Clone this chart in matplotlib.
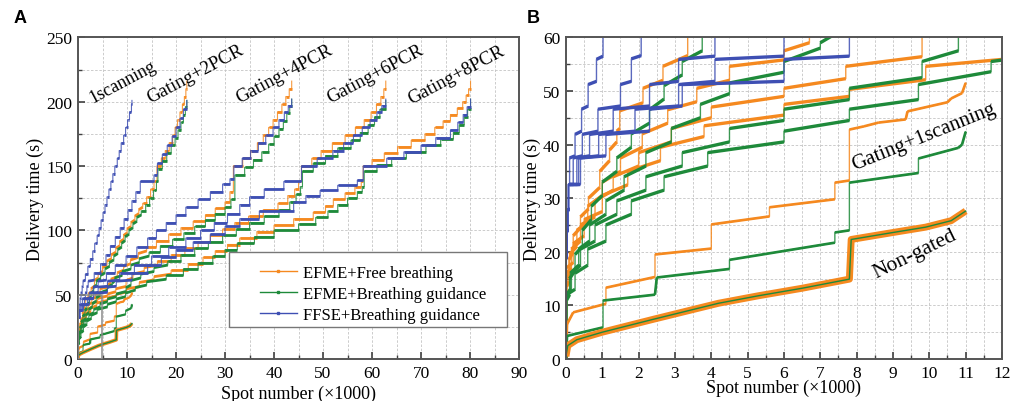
import matplotlib
matplotlib.use('Agg')
import matplotlib.pyplot as plt
from matplotlib.collections import LineCollection
from matplotlib.lines import Line2D
from matplotlib.patches import Rectangle
from matplotlib.ticker import MultipleLocator

plt.rcParams['font.family'] = 'Liberation Serif'

ORANGE = '#F5891F'
GREEN = '#1E8A3A'
BLUE = '#3E4FB3'

# ---- step curves: x = spot number (x1000) where a level starts, y = delivery time (s)
# *_rise = how much the first treads climb before the next jump
# EFME + Free breathing (orange)
o2_x = [0, 0.02, 0.08, 0.2, 0.4, 0.62, 0.93, 1.2, 1.4, 1.48, 2.12, 2.67, 3.35, 4.1, 5.0, 5.9, 6.8, 7.7, 8.5, 9.3, 10.0,
        10.8, 11.6, 12.4, 13.2, 14.0, 14.8, 15.5, 16.1, 17.0, 17.8, 18.6, 19.3, 19.8, 20.3, 20.8, 21.3, 21.7, 22.0, 22.2]
o2_y = [0, 13.5, 18.5, 23, 26.5, 30, 35, 39, 42.5, 46.3, 50.5, 54.6, 61, 66, 71, 76, 81, 86, 91, 96, 101,
        106, 111, 116, 121, 126, 132, 138, 150, 156, 162, 168, 174, 180, 186, 192, 198, 204, 210, 216]
o2_rise = [0, 1, 1.5, 1.5, 1.5, 2, 2, 1.5, 0.5, 1.5, 1.5, 2, 2, 2, 2, 2, 2, 2, 2, 2, 2, 2, 2, 2]
o4_x = [0, 0.02, 0.1, 0.3, 0.6, 1.0, 1.5, 2.1, 2.8, 3.6, 4.5, 6.0, 6.7, 8.0, 9.3, 10.7, 12.3, 14.0, 16.0, 18.5, 21.0,
        23.5, 26.0, 28.0, 30.0, 31.0, 31.7, 33.6, 35.2, 36.6, 37.8, 38.9, 39.8, 40.7, 41.6, 42.4, 43.1, 43.6]
o4_y = [0, 15, 19.5, 24, 28.5, 33, 37.5, 42, 46.5, 50.5, 54.6, 57.5, 62, 67, 72, 77, 82, 87, 92, 97, 102,
        107, 112, 117, 122, 130, 150, 156, 162, 168, 174, 180, 186, 192, 198, 204, 210, 216]
o4_rise = [0, 1, 1.5, 1.5, 2, 2, 2, 2, 1.5, 1.5, 1.2, 1.5, 2, 2, 2, 2, 2]
o6_x = [0, 0.02, 0.15, 0.4, 0.8, 1.3, 2.0, 2.9, 4.0, 6.0, 7.7, 9.8, 11.2, 13.5, 16.2, 19.0, 21.8, 24.5, 27.0, 29.5, 32.0,
        34.8, 37.8, 40.8, 42.8, 44.2, 45.0, 45.6, 47.7, 49.6, 51.9, 54.5, 56.6, 58.4, 59.8, 60.9, 61.8, 62.4, 62.8]
o6_y = [0, 16, 20.5, 25, 29.5, 34, 38.5, 43, 47, 50.5, 54.6, 61, 66, 71, 76, 81, 86, 91, 96, 101, 106,
        111, 116, 121, 127, 132, 138, 150, 156, 162, 168, 174, 180, 186, 192, 198, 204, 210, 216]
o6_rise = [0, 1, 1.5, 1.5, 2, 2, 2, 2, 2, 1.8, 1.8, 2, 2, 2]
o8_x = [0, 0.02, 0.2, 0.5, 1.0, 1.7, 2.6, 3.8, 6.0, 7.8, 9.9, 12.5, 15.5, 19.0, 22.5, 25.5, 28.0, 30.5, 33.0, 36.5, 40.0,
        44.0, 48.0, 50.5, 52.1, 54.5, 56.5, 57.8, 58.2, 60.0, 62.5, 65.2, 68.0, 70.8, 72.8, 74.5, 76.0, 77.4, 78.5,
        79.2, 79.7, 80.1]
o8_y = [0, 17, 21.5, 26, 30.5, 35, 39.5, 43.5, 47.5, 50.3, 54.6, 59.5, 64, 69, 74, 79, 84, 89, 94, 99, 104,
        109, 114, 119, 124, 129, 134, 138, 150, 155, 160, 165, 170, 175, 180, 185, 190, 195, 200,
        205, 210, 216]
o8_rise = [0, 1, 1.5, 1.5, 2, 2, 2, 2, 1.5, 1.8, 1.6, 2, 2]

# EFME + Breathing guidance (green)
g2_x = [0, 0.02, 0.1, 0.25, 0.45, 0.7, 1.0, 1.4, 1.8, 2.3, 2.7, 3.2, 3.75, 4.6, 5.5, 6.4, 7.3, 8.1, 8.9, 9.6, 10.4,
        11.2, 12.0, 12.9, 13.8, 14.6, 15.4, 16.0, 16.3, 17.2, 18.1, 19.0, 19.8, 20.4, 21.0, 21.5, 21.9, 22.2]
g2_y = [0, 11, 15, 19.5, 24, 28.5, 33, 37.5, 42, 46.5, 51, 55.5, 60.5, 65, 70, 75, 80, 85, 90, 95, 100,
        105, 110, 115, 120, 125, 131, 138, 148, 154, 160, 166, 172, 178, 184, 190, 196, 201]
g2_rise = [0, 1, 1.5, 1.5, 2, 2, 2, 2, 2, 2, 2, 2, 2, 2, 2, 2, 2, 2, 2, 2, 2, 2, 2]
g4_x = [0, 0.02, 0.12, 0.35, 0.65, 1.1, 1.6, 2.2, 2.9, 3.7, 4.5, 6.0, 7.0, 7.5, 9.0, 10.8, 12.5, 14.5, 16.8, 19.3, 21.6,
        23.8, 26.0, 28.0, 30.0, 31.2, 32.0, 34.0, 35.8, 37.5, 38.9, 40.0, 41.0, 41.9, 42.6, 43.2, 43.6]
g4_y = [0, 12, 16, 20.5, 25, 29.5, 34, 38.5, 43, 47.5, 51.5, 55.5, 59, 63, 68, 73, 78, 83, 88, 93, 98,
        103, 108, 113, 118, 124, 143, 149, 155, 161, 167, 173, 179, 185, 191, 197, 202]
g4_rise = [0, 1, 1.5, 1.5, 2, 2, 2, 2, 2, 2, 2, 2.5, 2, 2, 2, 2, 2]
g6_x = [0, 0.02, 0.15, 0.4, 0.8, 1.4, 2.2, 3.2, 4.5, 6.0, 7.8, 9.8, 10.8, 12.8, 15.5, 18.3, 21.0, 23.8, 26.6, 29.5, 32.3,
        35.0, 38.0, 41.0, 43.2, 44.5, 45.4, 45.8, 48.0, 50.5, 53.0, 55.7, 57.6, 59.2, 60.5, 61.6, 62.8]
g6_y = [0, 12, 16, 20.5, 25, 29.5, 34, 38.5, 43, 46.6, 50.5, 55.5, 61, 66, 71, 76, 81, 86, 91, 96, 101,
        106, 111, 116, 122, 128, 134, 146, 152, 158, 164, 170, 176, 182, 188, 194, 201]
g6_rise = [0, 1, 1.5, 1.5, 2, 2, 2, 2, 1.5, 1.8, 2, 2, 2, 2, 2]
g8_x = [0, 0.02, 0.25, 0.6, 1.1, 1.8, 2.7, 3.9, 6.0, 7.8, 9.7, 11.7, 14.0, 18.0, 21.5, 24.5, 27.5, 30.0, 32.5, 36.0, 40.0,
        45.0, 48.5, 51.0, 53.0, 55.0, 57.0, 58.0, 58.4, 61.0, 64.0, 67.0, 71.0, 74.0, 76.6, 77.8, 78.8, 79.5, 80.1]
g8_y = [0, 12, 16, 20.5, 25, 29.5, 34, 38.5, 42.5, 46.6, 51.2, 55.5, 60, 65, 70, 75, 80, 85, 90, 95, 100,
        105, 110, 115, 120, 125, 130, 134, 146, 151, 156, 161, 166, 171, 176, 182, 188, 194, 202]
g8_rise = [0, 1, 1.5, 1.5, 2, 2, 2, 2, 2, 1.8, 2.4, 2, 2]

# FFSE + Breathing guidance (blue)
b1_x = [0, 0.01, 0.03, 0.05, 0.07, 0.1, 0.25, 0.43, 0.61, 0.84, 1.02, 1.5, 2.0, 2.5, 3.0, 3.4, 3.9, 4.3, 4.7, 5.1,
        5.5, 5.9, 6.3, 6.7, 7.1, 7.5, 8.0, 8.4, 8.8, 9.3, 9.7, 10.1, 10.5, 10.9, 11.0]
b1_y = [0, 19, 24, 28, 32.6, 37.5, 41.9, 46.6, 51.2, 55.9, 60.5, 66, 72, 78, 84, 90, 96, 102, 108, 114,
        120, 126, 132, 138, 144, 150, 156, 162, 168, 174, 180, 186, 192, 198, 201]
b2_x = [0, 0.01, 0.03, 0.05, 0.07, 0.2, 0.45, 0.88, 1.5, 1.8, 2.07, 3.3, 4.6, 5.7, 6.6, 7.6, 8.6, 9.4, 10.2, 11.0,
        11.8, 12.7, 15.5, 16.2, 17.2, 18.2, 19.2, 20.0, 20.8, 21.5, 22.2]
b2_y = [0, 19, 24, 28, 32.6, 37.5, 41.9, 46.6, 51.2, 56, 60.5, 67, 74, 81, 88, 95, 102, 109, 116, 123,
        130, 138, 143, 152, 159, 166, 173, 180, 187, 194, 201]
b4_x = [0, 0.01, 0.03, 0.05, 0.07, 0.3, 0.65, 1.3, 2.3, 3.1, 4.1, 5.8, 7.6, 9.8, 12.0, 14.2, 16.0, 18.0, 20.0, 22.0,
        24.5, 27.0, 29.5, 31.0, 31.8, 33.5, 35.2, 36.8, 38.3, 39.8, 41.0, 42.1, 42.9, 43.6]
b4_y = [0, 19, 24, 28, 32.6, 37.5, 41.9, 46.6, 51.2, 55.9, 60.5, 67, 73, 80, 87, 94, 100, 106, 112, 118,
        124, 130, 136, 140, 150, 156, 162, 168, 174, 180, 186, 192, 197, 202]
b6_x = [0, 0.01, 0.03, 0.05, 0.07, 0.35, 0.9, 1.9, 3.1, 4.1, 6.0, 8.5, 11.5, 15.0, 18.5, 22.0, 25.0, 27.8, 30.5, 33.0,
        35.0, 38.0, 42.0, 45.6, 48.8, 52.0, 54.2, 56.2, 58.0, 59.6, 61.0, 62.0, 62.8]
b6_y = [0, 19, 24, 28, 32.6, 37.5, 41.9, 46.6, 51.2, 55.9, 60.5, 67, 73, 80, 87, 94, 100, 106, 113, 120,
        126, 132, 138, 150, 156, 162, 168, 174, 180, 186, 192, 197, 202]
b8_x = [0, 0.01, 0.03, 0.05, 0.07, 0.4, 1.1, 2.3, 3.2, 6.0, 7.8, 11.0, 14.2, 17.0, 20.0, 23.5, 27.0, 30.0, 33.0, 37.0,
        44.0, 46.5, 49.4, 53.0, 57.0, 58.2, 63.0, 66.5, 70.0, 73.0, 76.0, 77.5, 78.6, 79.4, 80.1]
b8_y = [0, 19, 24, 28, 32.6, 37.5, 41.9, 46.6, 51.2, 55.9, 60.5, 67, 73, 79, 85, 91, 97, 103, 109, 115,
        122, 127, 131, 135, 139, 150, 156, 161, 166, 172, 178, 184, 190, 196, 202]
b_rise = [0, 0, 0, 0, 0, 0.4, 0.6, 0.6, 0.6, 0.6, 0.8]

# ---- polylines (sloped treads): Gating+1scanning and Non-gated, EFME
o1_x = [0, 0.03, 0.2, 1.1, 1.1, 2.45, 2.45, 4.0, 4.0, 5.6, 5.6, 7.4, 7.4, 7.8, 7.8, 8.2, 8.6, 9.35, 9.4, 10.5, 10.6, 10.9, 11.0]
o1_y = [0, 6.5, 8.7, 10.3, 13.3, 15.3, 19.5, 20.6, 25.1, 26.6, 28.3, 29.8, 32.9, 33.3, 42.8, 43.4, 44.1, 44.7, 46.2, 47.9, 48.6, 49.6, 51.5]
g1_x = [0, 0.03, 1.02, 1.02, 2.45, 2.5, 4.5, 4.5, 7.4, 7.4, 7.8, 7.8, 9.7, 9.7, 10.8, 10.9, 11.0]
g1_y = [0, 4.3, 5.9, 10.9, 12.0, 15.2, 16.8, 18.5, 21.7, 23.6, 24.0, 32.9, 34.7, 37.4, 39.4, 40.0, 42.4]
ng_x = [0, 0.05, 0.3, 1.0, 2.4, 4.2, 5.3, 6.5, 7.8, 7.85, 9.0, 9.9, 10.6, 11.0]
ng_y = [0.5, 2.5, 3.6, 5.0, 7.4, 10.4, 11.8, 13.2, 14.9, 22.3, 23.6, 24.6, 25.8, 27.6]

step_curves = [
    (o2_x, o2_y, o2_rise, ORANGE), (o4_x, o4_y, o4_rise, ORANGE),
    (o6_x, o6_y, o6_rise, ORANGE), (o8_x, o8_y, o8_rise, ORANGE),
    (g2_x, g2_y, g2_rise, GREEN), (g4_x, g4_y, g4_rise, GREEN),
    (g6_x, g6_y, g6_rise, GREEN), (g8_x, g8_y, g8_rise, GREEN),
    (b1_x, b1_y, b_rise, BLUE), (b2_x, b2_y, b_rise, BLUE), (b4_x, b4_y, b_rise, BLUE),
    (b6_x, b6_y, b_rise, BLUE), (b8_x, b8_y, b_rise, BLUE),
]


def step_vertices(xs, ys, rise):
    vx, vy = [xs[0]], [ys[0]]
    for i in range(1, len(xs)):
        r = rise[i - 1] if i - 1 < len(rise) else 0
        vx += [xs[i], xs[i]]
        vy += [ys[i - 1] + r, ys[i]]
    return vx, vy


def draw(ax, vx, vy, color, tread_lw, riser_lw):
    ax.plot(vx, vy, color=color, lw=riser_lw, alpha=0.85)
    segs = [[(vx[i], vy[i]), (vx[i + 1], vy[i + 1])] for i in range(len(vx) - 1) if vx[i + 1] > vx[i]]
    ax.add_collection(LineCollection(segs, colors=color, linewidths=tread_lw, capstyle='butt'))


def style_axes(ax, xmax, ymax, xmaj, xmin, ymaj, ymin):
    ax.set_xlim(0, xmax)
    ax.set_ylim(0, ymax)
    ax.xaxis.set_major_locator(MultipleLocator(xmaj))
    ax.xaxis.set_minor_locator(MultipleLocator(xmin))
    ax.yaxis.set_major_locator(MultipleLocator(ymaj))
    ax.yaxis.set_minor_locator(MultipleLocator(ymin))
    ax.grid(True, which='both', color='#c4c4c4', ls=(0, (3, 2)), lw=0.6)
    ax.set_axisbelow(True)
    ax.tick_params(which='both', direction='in', top=False, right=False, color='#404040',
                   labelsize=12.5, pad=4)
    ax.tick_params(which='major', length=5, width=1.2)
    ax.tick_params(which='minor', length=3, width=1.0)
    for s in ax.spines.values():
        s.set_color('#555555')
        s.set_linewidth(1.4)


fig = plt.figure(figsize=(10.11, 4.02), dpi=100)
axA = fig.add_axes([0.0772, 0.1045, 0.4362, 0.8000])
axB = fig.add_axes([0.5598, 0.1045, 0.4313, 0.8000])

for ax, tlw, rlw, nglw in [(axA, 2.0, 0.8, 2.6), (axB, 2.4, 1.0, 5.0)]:
    for xs, ys, rs, c in step_curves:
        vx, vy = step_vertices(xs, ys, rs)
        draw(ax, vx, vy, c, tlw, rlw)
    draw(ax, o1_x, o1_y, ORANGE, tlw * 0.8, rlw)
    draw(ax, g1_x, g1_y, GREEN, tlw * 0.8, rlw)
    ax.plot(ng_x, ng_y, color=ORANGE, lw=nglw, solid_capstyle='butt')
    ax.plot(ng_x, ng_y, color=GREEN, lw=1.0)

style_axes(axA, 90, 250, 10, 5, 50, 25)
style_axes(axB, 12, 60, 1, 0.5, 10, 5)

axA.add_patch(Rectangle((0, 0), 4.8, 50, fill=False, ec='#8a8a8a', lw=1.1, zorder=5))

# legend with a hand-drawn frame
axA.add_patch(Rectangle((0.3424, 0.0994), 0.6304, 0.2329, transform=axA.transAxes,
                        fc='white', ec='#777777', lw=1.0, zorder=6))
handles = [Line2D([], [], color=ORANGE, lw=1.0, marker='s', ms=2),
           Line2D([], [], color=GREEN, lw=1.0, marker='s', ms=2),
           Line2D([], [], color=BLUE, lw=1.0, marker='s', ms=2)]
leg = axA.legend(handles, ['EFME+Free breathing', 'EFME+Breathing guidance', 'FFSE+Breathing guidance'],
                 loc='upper left', bbox_to_anchor=(0.4127, 0.292), frameon=False, fontsize=12,
                 borderpad=0, borderaxespad=0, handlelength=2.2, handletextpad=0.4, labelspacing=0.3)
leg.set_zorder(7)

for ax, xl in [(axA, (-0.077, -0.081)), (axB, (-0.058, -0.062))]:
    ax.set_ylabel('Delivery time (s)', fontsize=13)
    ax.set_xlabel('Spot number (\u00d71000)', fontsize=13)
    ax.yaxis.set_label_coords(xl[0], 0.5)
    ax.xaxis.set_label_coords(0.5, xl[1])

kw = dict(fontsize=13.5, rotation=28, ha='center', va='center', rotation_mode='anchor')
axA.text(9.0, 216, '1scanning', fontsize=13, rotation=28, ha='center', va='center', rotation_mode='anchor')
axA.text(23.9, 222, 'Gating+2PCR', **kw)
axA.text(42.2, 222, 'Gating+4PCR', **kw)
axA.text(60.7, 222, 'Gating+6PCR', **kw)
axA.text(77.3, 221, 'Gating+8PCR', **kw)

axB.text(9.85, 41.6, 'Gating+1scanning', fontsize=15, rotation=22, ha='center', va='center',
         rotation_mode='anchor')
axB.text(9.6, 19.7, 'Non-gated', fontsize=15.5, rotation=26, ha='center', va='center',
         rotation_mode='anchor')

fig.text(0.0138, 0.955, 'A', fontsize=13, fontweight='bold', family='Liberation Sans', va='center')
fig.text(0.521, 0.955, 'B', fontsize=13, fontweight='bold', family='Liberation Sans', va='center')

fig.savefig('out.png', dpi=100)
